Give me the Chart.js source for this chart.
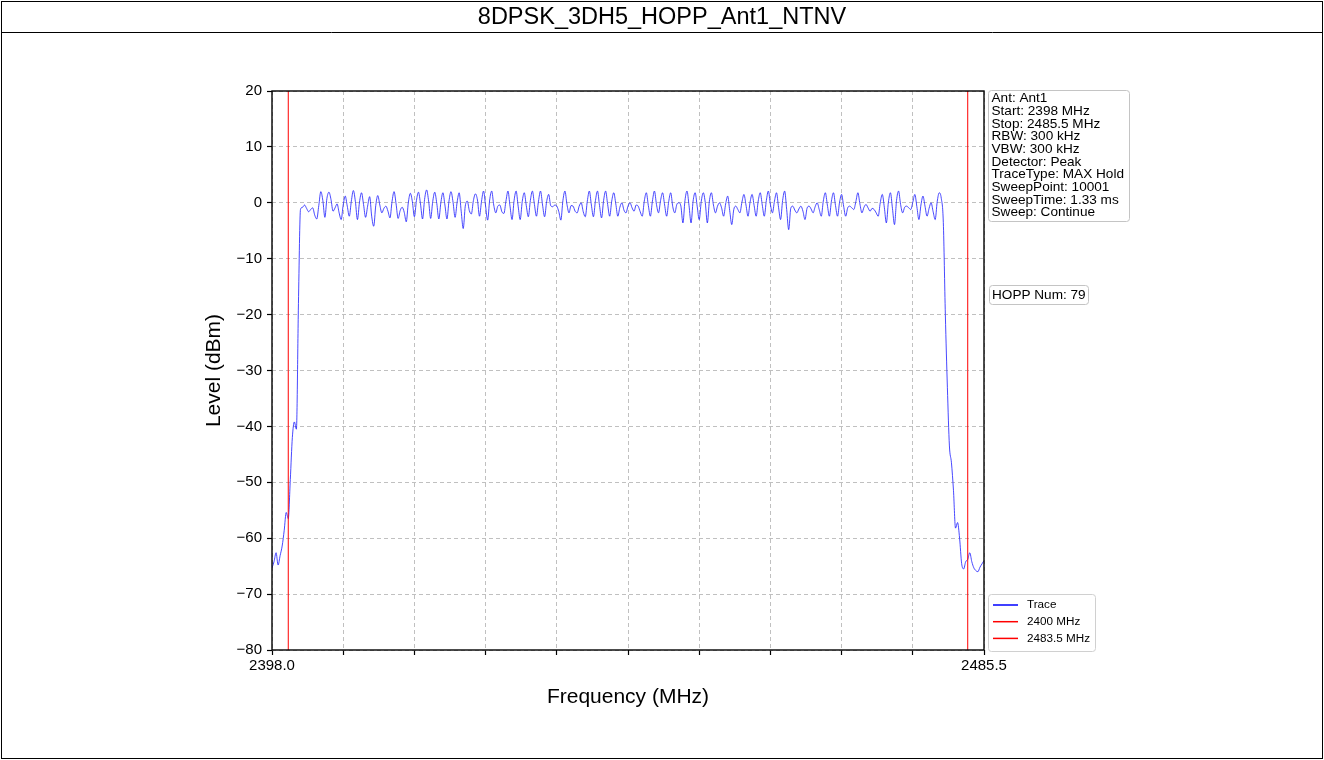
<!DOCTYPE html>
<html>
<head>
<meta charset="utf-8">
<title>8DPSK_3DH5_HOPP_Ant1_NTNV</title>
<script src="https://cdn.jsdelivr.net/npm/chart.js@4.4.0/dist/chart.umd.min.js"></script>
<style>
  html, body { margin: 0; padding: 0; background: #fff; }
  canvas { display: block; }
</style>
</head>
<body>
<canvas id="chartSpec" width="1324" height="760"></canvas>
<script>
const CHART_TITLE = "8DPSK_3DH5_HOPP_Ant1_NTNV";
const X_TITLE = "Frequency (MHz)";
const Y_TITLE = "Level (dBm)";

// sweep grid (MHz)
const FREQ_START = 2398.0;
const FREQ_STOP = 2485.5;
const FREQ_STEP = 0.25;
const Y_MIN = -80;
const Y_MAX = 20;

// trace levels (dBm), one value every 0.25 MHz from 2398.0 MHz
const levels = [
  -65.3, -64.2, -62.6, -64.8, -63.1, -61.4, -58.6, -55.4, -56.5, -49.5, -42.0, -39.2, -40.5, -18.0, -1.2,
  -0.8, -0.4, -1.0, -1.6,   // 2402
  -1.2, -0.9, -2.2, -2.9,
  -0.5, 2.0, 0.4, -2.6,
  0.8, 1.9, 0.6, -1.5,
  -0.9, -0.2, -1.8, -3.0,
  -0.4, 1.2, -0.6, -2.4,
  0.3, 2.2, 0.2, -3.0,
  0.1, 1.8, -0.3, -2.6,
  -0.6, 1.1, -2.4, -4.2,   // 2410
  -0.5, 1.3, -0.4, -1.8,
  -1.0, -0.6, -1.5, -2.7,
  0.2, 2.0, -0.2, -2.8,
  -1.4, -0.8, -1.7, -3.4,
  0.0, 1.7, 0.2, -2.5,
  0.4, 1.9, -0.2, -2.9,
  0.6, 2.3, 0.3, -2.8,
  0.2, 1.9, -0.1, -2.9,
  0.0, 1.8, -0.4, -2.9,
  0.3, 2.0, 0.1, -2.6,     // 2420
  0.1, 1.8, -1.5, -4.6,
  -0.6, 0.3, -1.4, -2.0,
  0.4, 1.6, 0.5, -2.4,
  0.3, 2.1, -0.6, -3.1,
  0.5, 2.1, -0.4, -1.8,
  -0.6, -0.4, -1.6, -1.9,
  0.3, 2.1, -0.6, -3.0,
  0.4, 2.1, -0.6, -3.0,
  0.2, 1.8, -0.5, -2.5,
  0.4, 2.1, -0.3, -2.4,    // 2430
  0.3, 2.1, -0.4, -2.5,
  0.2, 1.5, -0.5, -0.7,
  -0.4, -0.6, -1.6, -3.1,
  0.4, 2.1, -0.3, -1.8,
  -0.5, -0.6, -1.5, -1.8,
  -0.6, 0.0, -1.6, -2.5,
  0.3, 2.1, -0.4, -2.5,
  0.4, 2.1, -0.5, -2.7,
  0.4, 2.1, -0.3, -2.4,
  0.3, 1.8, -0.2, -2.4,    // 2440
  -0.8, 0.0, -1.3, -1.8,
  -0.6, 0.0, -0.9, -1.5,
  -0.4, -0.6, -1.6, -2.4,
  0.3, 1.8, -0.5, -2.4,
  0.3, 2.1, -0.3, -1.8,
  0.4, 1.8, -0.4, -2.4,
  0.2, 1.8, -0.7, -1.8,
  -0.3, 0.0, -0.6, -3.6,
  0.4, 2.1, -0.5, -3.6,
  0.3, 1.8, -0.6, -3.0,    // 2450
  0.2, 1.8, 0.0, -3.6,
  0.3, 1.8, -0.4, -1.8,
  -0.6, 0.0, -0.9, -2.4,
  -0.2, 1.2, -1.4, -3.9,
  -1.2, -0.6, -1.2, -1.8,
  0.1, 1.5, -0.4, -2.4,
  0.1, 1.5, -0.5, -2.4,
  0.3, 1.8, -0.4, -2.4,
  0.4, 2.1, -0.3, -1.8,
  0.3, 1.8, -0.8, -3.0,    // 2460
  0.4, 2.1, -1.2, -4.8,
  -1.0, -0.6, -1.3, -1.8,
  -1.1, -0.6, -1.5, -3.0,
  -1.0, -0.6, -1.1, -1.8,
  -0.7, 0.0, -1.2, -2.4,
  0.3, 1.8, -0.4, -2.4,
  0.3, 1.8, -0.5, -2.4,
  0.1, 1.5, -0.6, -2.4,
  -0.9, -0.6, -0.9, -1.2,
  0.2, 1.8, -0.2, -1.8,    // 2470
  -0.8, -0.3, -0.9, -1.5,
  -1.0, -1.2, -1.8, -2.4,
  0.0, 1.5, -0.8, -3.6,
  0.1, 1.8, -1.0, -3.9,
  0.4, 2.1, -0.3, -1.8,
  -0.8, -0.6, -0.9, -1.2,
  0.1, 1.5, -0.7, -3.0,
  -0.4, 1.2, -0.6, -2.4,
  -1.0, 0.0, -1.6, -3.0,
  0.2, 1.8, 0.8, -3.5,     // 2480
  -20.0, -33.0, -43.5, -46.5, -51.5, -58.2, -57.2, -60.0, -64.5, -65.5,
  -64.2, -63.8, -62.6, -64.2, -65.3, -65.8, -66.0, -65.2, -64.6, -64.0
];

const markerFreqs = [2400, 2483.5];
const markerLabels = ["2400 MHz", "2483.5 MHz"];

const xTicks = [2398.0, 2406.75, 2415.5, 2424.25, 2433.0, 2441.75, 2450.5, 2459.25, 2468.0, 2476.75, 2485.5];
const xTickLabels = ["2398.0", "", "", "", "", "", "", "", "", "", "2485.5"];

const infoLines = [
  "Ant: Ant1",
  "Start: 2398 MHz",
  "Stop: 2485.5 MHz",
  "RBW: 300 kHz",
  "VBW: 300 kHz",
  "Detector: Peak",
  "TraceType: MAX Hold",
  "SweepPoint: 10001",
  "SweepTime: 1.33 ms",
  "Sweep: Continue"
];
const hoppText = "HOPP Num: 79";

const FONT = "Arial, 'Liberation Sans', sans-serif";

if (levels.length !== 351) console.warn("levels length", levels.length);

const traceData = levels.map((v, i) => ({ x: FREQ_START + i * FREQ_STEP, y: v }));

function roundBox(ctx, x, y, w, h, r) {
  ctx.beginPath();
  ctx.moveTo(x + r, y);
  ctx.arcTo(x + w, y, x + w, y + h, r);
  ctx.arcTo(x + w, y + h, x, y + h, r);
  ctx.arcTo(x, y + h, x, y, r);
  ctx.arcTo(x, y, x + w, y, r);
  ctx.closePath();
}

const decor = {
  id: "decor",
  beforeDraw(chart) {
    const ctx = chart.ctx;
    ctx.save();
    ctx.fillStyle = "#fff";
    ctx.fillRect(0, 0, chart.width, chart.height);
    ctx.restore();
  },
  afterDatasetsDraw(chart) {
    const { ctx, chartArea: a } = chart;
    ctx.save();
    ctx.strokeStyle = "#000";
    ctx.lineWidth = 1.4;
    ctx.strokeRect(a.left, a.top, a.right - a.left, a.bottom - a.top);
    ctx.restore();
  },
  afterDraw(chart) {
    const { ctx, chartArea: a } = chart;
    ctx.save();

    // outer frame + title bar
    ctx.strokeStyle = "#000";
    ctx.lineWidth = 1;
    ctx.strokeRect(1.5, 1.5, chart.width - 3, chart.height - 3);
    ctx.beginPath();
    ctx.moveTo(1, 32.5);
    ctx.lineTo(chart.width - 1, 32.5);
    ctx.stroke();

    ctx.fillStyle = "#000";
    ctx.textAlign = "center";
    ctx.textBaseline = "middle";
    ctx.font = "23.5px " + FONT;
    ctx.fillText(CHART_TITLE, chart.width / 2, 18);

    // axis titles
    ctx.font = "21px " + FONT;
    ctx.fillText(X_TITLE, (a.left + a.right) / 2, 697);
    ctx.save();
    ctx.translate(214, (a.top + a.bottom) / 2);
    ctx.rotate(-Math.PI / 2);
    ctx.fillText(Y_TITLE, 0, 0);
    ctx.restore();

    // info box
    ctx.textAlign = "left";
    ctx.lineWidth = 1;
    ctx.strokeStyle = "#c4c4c4";
    ctx.fillStyle = "#fff";
    roundBox(ctx, 988.5, 90.5, 141, 131, 3);
    ctx.fill();
    ctx.stroke();
    ctx.fillStyle = "#000";
    ctx.font = "13.6px " + FONT;
    infoLines.forEach((t, i) => ctx.fillText(t, 991.5, 98.5 + i * 12.67));

    // hopping count box
    ctx.fillStyle = "#fff";
    roundBox(ctx, 989.5, 285.5, 99, 19, 3);
    ctx.fill();
    ctx.stroke();
    ctx.fillStyle = "#000";
    ctx.fillText(hoppText, 992, 295.5);

    // legend
    ctx.fillStyle = "#fff";
    ctx.strokeStyle = "#d0d0d0";
    roundBox(ctx, 988.5, 594.5, 107, 57, 3);
    ctx.fill();
    ctx.stroke();
    const legendItems = [
      { label: "Trace", color: "#0000ff" },
      { label: markerLabels[0], color: "#ff0000" },
      { label: markerLabels[1], color: "#ff0000" }
    ];
    ctx.font = "11.7px " + FONT;
    legendItems.forEach((it, i) => {
      const y = 605 + i * 16.7;
      ctx.strokeStyle = it.color;
      ctx.lineWidth = 1.5;
      ctx.beginPath();
      ctx.moveTo(993, y);
      ctx.lineTo(1018, y);
      ctx.stroke();
      ctx.fillStyle = "#000";
      ctx.fillText(it.label, 1027, y);
    });

    ctx.restore();
  }
};

const gridOpts = {
  color: "#b0b0b0",
  lineWidth: 0.8,
  drawTicks: true,
  tickLength: 5,
  tickColor: "#000",
  tickWidth: 1.2,
  tickBorderDash: []
};

new Chart(document.getElementById("chartSpec"), {
  type: "line",
  data: {
    datasets: [
      {
        label: markerLabels[0],
        data: [{ x: markerFreqs[0], y: Y_MIN }, { x: markerFreqs[0], y: Y_MAX }],
        borderColor: "#ff0000",
        borderWidth: 1,
        pointRadius: 0
      },
      {
        label: markerLabels[1],
        data: [{ x: markerFreqs[1], y: Y_MIN }, { x: markerFreqs[1], y: Y_MAX }],
        borderColor: "#ff0000",
        borderWidth: 1,
        pointRadius: 0
      },
      {
        label: "Trace",
        data: traceData,
        borderColor: "#1a1aff",
        borderWidth: 0.8,
        pointRadius: 0,
        cubicInterpolationMode: "monotone"
      }
    ]
  },
  options: {
    responsive: false,
    animation: false,
    devicePixelRatio: 1,
    layout: { padding: { left: 0, top: 91, right: 340, bottom: 0 } },
    plugins: {
      legend: { display: false },
      title: { display: false },
      tooltip: { enabled: false }
    },
    scales: {
      x: {
        type: "linear",
        min: FREQ_START,
        max: FREQ_STOP,
        afterBuildTicks: s => { s.ticks = xTicks.map(v => ({ value: v })); },
        afterFit: s => { s.height = 110; },
        ticks: {
          autoSkip: false,
          maxRotation: 0,
          color: "#000",
          padding: 2,
          font: { family: FONT, size: 15 },
          callback: (v, i) => xTickLabels[i]
        },
        grid: gridOpts,
        border: { display: false, dash: [4, 3] }
      },
      y: {
        min: Y_MIN,
        max: Y_MAX,
        afterFit: s => { s.width = 272; },
        ticks: {
          stepSize: 10,
          color: "#000",
          padding: 5,
          font: { family: FONT, size: 15 },
          callback: v => String(v).replace("-", "\u2212")
        },
        grid: gridOpts,
        border: { display: false, dash: [4, 3] }
      }
    }
  },
  plugins: [decor]
});
</script>
</body>
</html>
